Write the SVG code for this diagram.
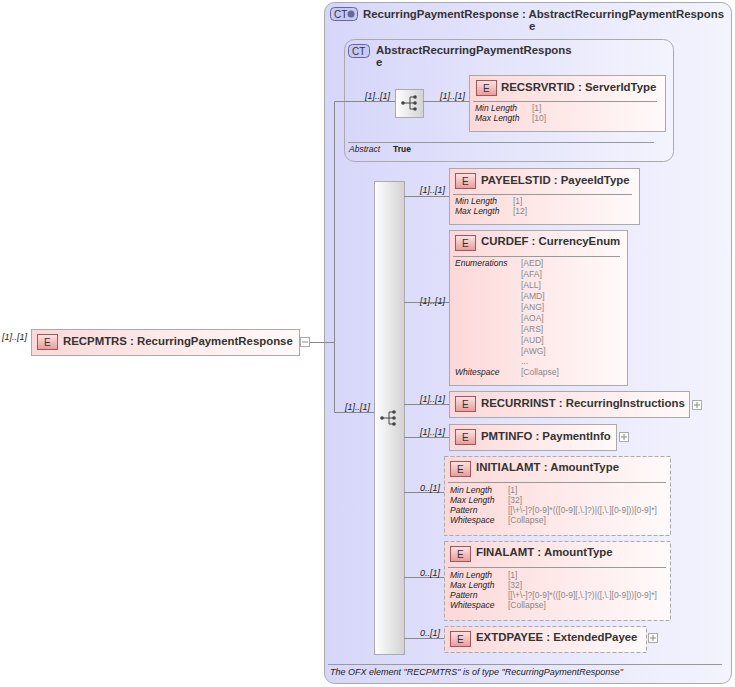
<svg xmlns="http://www.w3.org/2000/svg" width="735" height="687" viewBox="0 0 735 687">
<defs>
<linearGradient id="ct" x1="0" y1="0" x2="1" y2="0"><stop offset="0" stop-color="#d6d6fa"/><stop offset="1" stop-color="#f4f4fe"/></linearGradient>
<linearGradient id="el" x1="0" y1="0" x2="1" y2="0"><stop offset="0" stop-color="#fdd8d8"/><stop offset="1" stop-color="#fffafa"/></linearGradient>
<linearGradient id="bar" x1="0" y1="0" x2="1" y2="0"><stop offset="0" stop-color="#ffffff"/><stop offset="1" stop-color="#d2d2d2"/></linearGradient>
<linearGradient id="badge" x1="0" y1="0" x2="0" y2="1"><stop offset="0" stop-color="#fbe6e6"/><stop offset="1" stop-color="#e89a9a"/></linearGradient>
<g id="seqicon"><line x1="-7" y1="0" x2="0" y2="0" stroke="#444"/><circle cx="-7" cy="0" r="1.8" fill="#444"/><line x1="0" y1="-6" x2="0" y2="6" stroke="#444"/><line x1="0" y1="-6" x2="5" y2="-6" stroke="#444"/><line x1="0" y1="0" x2="5" y2="0" stroke="#444"/><line x1="0" y1="6" x2="5" y2="6" stroke="#444"/><circle cx="5" cy="-6" r="1.8" fill="#444"/><circle cx="5" cy="0" r="1.8" fill="#444"/><circle cx="5" cy="6" r="1.8" fill="#444"/></g>
</defs>
<style>
text{font-family:"Liberation Sans",Arial,sans-serif}
.t{font-size:11.4px;font-weight:bold;fill:#333}
.e{fill:url(#el);stroke:#aaa}
.d{fill:url(#el);stroke:#aaa;stroke-dasharray:4,2}
.b{fill:url(#badge);stroke:#a55}
.bt{font-size:10px;fill:#333}
.k{font-size:8.5px;font-style:italic;fill:#222}
.v{font-size:8.5px;fill:#888}
.m{font-size:9px;font-style:italic;fill:#222}
.ln{stroke:#888;fill:none}
.sep{stroke:#999}
.pb{fill:#fff;stroke:#aaa}
</style>
<g id="outer">
<rect x="324.5" y="2.5" width="407" height="681" rx="10" fill="url(#ct)" stroke="#aaa"/>
<rect x="330.5" y="7.5" width="27" height="13" rx="4" fill="#c8c8f4" stroke="#669"/>
<text x="334" y="18" class="bt">CT</text><circle cx="351" cy="14" r="3.5" fill="#669"/>
<text x="363" y="18" class="t">RecurringPaymentResponse : AbstractRecurringPaymentRespons</text>
<text x="529" y="30" class="t">e</text>
<line x1="328" y1="664.5" x2="722" y2="664.5" class="sep"/>
<text x="330" y="675" class="m">The OFX element "RECPMTRS" is of type "RecurringPaymentResponse"</text>
</g>
<g id="inner">
<rect x="344.5" y="39.5" width="329" height="122" rx="10" fill="url(#ct)" stroke="#aaa"/>
<rect x="348.5" y="44.5" width="21" height="13" rx="4" fill="#c8c8f4" stroke="#669"/>
<text x="352" y="55" class="bt">CT</text>
<text x="376" y="54" class="t">AbstractRecurringPaymentRespons</text>
<text x="376" y="66" class="t">e</text>
<line x1="348" y1="142.5" x2="654" y2="142.5" class="sep"/>
<text x="349" y="152" class="k">Abstract</text><text x="393" y="152" font-size="8.5" font-weight="bold" fill="#222">True</text>
</g>
<g id="seq1"><rect x="395.5" y="89.5" width="28" height="28" fill="url(#bar)" stroke="#aaa"/><use href="#seqicon" x="410" y="103"/></g>
<g id="seq2"><rect x="374.5" y="181.5" width="30" height="473" fill="url(#bar)" stroke="#aaa"/><use href="#seqicon" x="389" y="418"/></g>
<g id="connectors">
<path class="ln" d="M309,342.5 H334.5 V101.5 H395 M334.5,342 V412.5 H374 M423,101.5 H469"/>
<path class="ln" d="M404,196.5 H449 M404,302.5 H449 M404,404.5 H449 M404,437.5 H449 M404,492.5 H444 M404,577.5 H444 M404,638.5 H444"/>
<text x="2" y="340" class="m">[1]..[1]</text>
<text x="365" y="99" class="m">[1]..[1]</text>
<text x="440" y="99" class="m">[1]..[1]</text>
<text x="345" y="410" class="m">[1]..[1]</text>
<text x="420" y="193" class="m">[1]..[1]</text>
<text x="420" y="304" class="m">[1]..[1]</text>
<text x="420" y="402" class="m">[1]..[1]</text>
<text x="420" y="435" class="m">[1]..[1]</text>
<text x="420" y="491" class="m">0..[1]</text>
<text x="420" y="576" class="m">0..[1]</text>
<text x="420" y="636" class="m">0..[1]</text>
</g>
<g id="RECPMTRS">
<rect x="31.5" y="329.5" width="268" height="26" class="e"/>
<rect x="37.5" y="334.5" width="20" height="15" class="b"/><text x="44" y="346" class="bt">E</text>
<text x="63" y="345" class="t">RECPMTRS : RecurringPaymentResponse</text>
<rect x="300.5" y="337.5" width="9" height="9" class="pb"/><line x1="302" y1="342" x2="308" y2="342" stroke="#888"/>
</g>
<g id="RECSRVRTID">
<rect x="469.5" y="75.5" width="196" height="56" class="e"/>
<rect x="476.5" y="80.5" width="20" height="15" class="b"/><text x="483" y="92" class="bt">E</text>
<text x="501" y="91" class="t">RECSRVRTID : ServerIdType</text>
<line x1="473" y1="101.5" x2="657" y2="101.5" class="sep"/>
<text x="475" y="111" class="k">Min Length</text><text x="532" y="111" class="v">[1]</text>
<text x="475" y="121" class="k">Max Length</text><text x="532" y="121" class="v">[10]</text>
</g>
<g id="PAYEELSTID">
<rect x="449.5" y="168.5" width="190" height="56" class="e"/>
<rect x="455.5" y="173.5" width="20" height="15" class="b"/><text x="462" y="185" class="bt">E</text>
<text x="481" y="184" class="t">PAYEELSTID : PayeeIdType</text>
<line x1="453" y1="194.5" x2="632" y2="194.5" class="sep"/>
<text x="455" y="204" class="k">Min Length</text><text x="513" y="204" class="v">[1]</text>
<text x="455" y="214" class="k">Max Length</text><text x="513" y="214" class="v">[12]</text>
</g>
<g id="CURDEF">
<rect x="449.5" y="230.5" width="178" height="155" class="e"/>
<rect x="455.5" y="235.5" width="20" height="15" class="b"/><text x="462" y="247" class="bt">E</text>
<text x="481" y="245" class="t">CURDEF : CurrencyEnum</text>
<line x1="453" y1="256.5" x2="620" y2="256.5" class="sep"/>
<text x="455" y="266" class="k">Enumerations</text>
<text x="521" y="266" class="v">[AED]</text><text x="521" y="277" class="v">[AFA]</text><text x="521" y="288" class="v">[ALL]</text><text x="521" y="299" class="v">[AMD]</text><text x="521" y="310" class="v">[ANG]</text><text x="521" y="321" class="v">[AOA]</text><text x="521" y="332" class="v">[ARS]</text><text x="521" y="343" class="v">[AUD]</text><text x="521" y="354" class="v">[AWG]</text><text x="521" y="364" class="v">...</text>
<text x="455" y="375" class="k">Whitespace</text><text x="521" y="375" class="v">[Collapse]</text>
</g>
<g id="RECURRINST">
<rect x="449.5" y="391.5" width="240" height="26" class="e"/>
<rect x="455.5" y="396.5" width="20" height="15" class="b"/><text x="462" y="408" class="bt">E</text>
<text x="481" y="407" class="t">RECURRINST : RecurringInstructions</text>
<rect x="692.5" y="400.5" width="9" height="9" class="pb"/><path d="M694,405H700M697,402V408" stroke="#888"/>
</g>
<g id="PMTINFO">
<rect x="449.5" y="424.5" width="167" height="26" class="e"/>
<rect x="455.5" y="429.5" width="20" height="15" class="b"/><text x="462" y="441" class="bt">E</text>
<text x="481" y="440" class="t">PMTINFO : PaymentInfo</text>
<rect x="619.5" y="432.5" width="9" height="9" class="pb"/><path d="M621,437H627M624,434V440" stroke="#888"/>
</g>
<g id="INITIALAMT">
<rect x="444.5" y="456.5" width="226" height="79" class="d"/>
<rect x="450.5" y="461.5" width="20" height="15" class="b"/><text x="457" y="473" class="bt">E</text>
<text x="476" y="471" class="t">INITIALAMT : AmountType</text>
<line x1="448" y1="482.5" x2="666" y2="482.5" class="sep"/>
<text x="450" y="493" class="k">Min Length</text><text x="508" y="493" class="v">[1]</text>
<text x="450" y="503" class="k">Max Length</text><text x="508" y="503" class="v">[32]</text>
<text x="450" y="513" class="k">Pattern</text><text x="508" y="513" class="v" font-size="7.5">[[\+\-]?[0-9]*(([0-9][,\.]?)|([,\.][0-9]))[0-9]*]</text>
<text x="450" y="523" class="k">Whitespace</text><text x="508" y="523" class="v">[Collapse]</text>
</g>
<g id="FINALAMT">
<rect x="444.5" y="541.5" width="226" height="79" class="d"/>
<rect x="450.5" y="546.5" width="20" height="15" class="b"/><text x="457" y="558" class="bt">E</text>
<text x="476" y="556" class="t">FINALAMT : AmountType</text>
<line x1="448" y1="567.5" x2="666" y2="567.5" class="sep"/>
<text x="450" y="578" class="k">Min Length</text><text x="508" y="578" class="v">[1]</text>
<text x="450" y="588" class="k">Max Length</text><text x="508" y="588" class="v">[32]</text>
<text x="450" y="598" class="k">Pattern</text><text x="508" y="598" class="v" font-size="7.5">[[\+\-]?[0-9]*(([0-9][,\.]?)|([,\.][0-9]))[0-9]*]</text>
<text x="450" y="608" class="k">Whitespace</text><text x="508" y="608" class="v">[Collapse]</text>
</g>
<g id="EXTDPAYEE">
<rect x="444.5" y="626.5" width="202" height="26" class="d"/>
<rect x="450.5" y="631.5" width="20" height="15" class="b"/><text x="457" y="643" class="bt">E</text>
<text x="476" y="641" class="t">EXTDPAYEE : ExtendedPayee</text>
<rect x="648.5" y="633.5" width="9" height="9" class="pb"/><path d="M650,638H656M653,635V641" stroke="#888"/>
</g>
</svg>
